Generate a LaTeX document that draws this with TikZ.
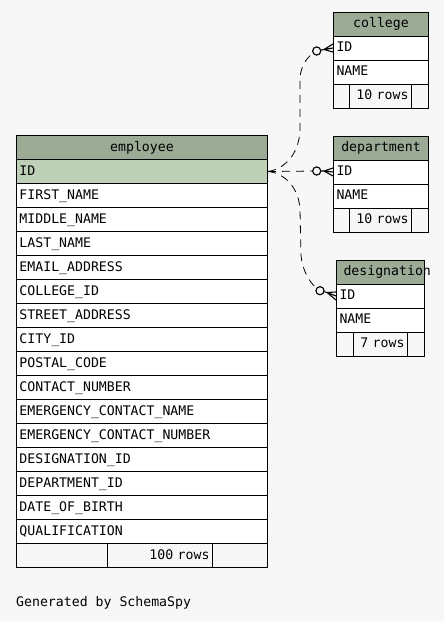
\documentclass[tikz,border=0pt]{standalone}
\usepackage{fontspec}
\newfontfamily\erdmono{DejaVu Sans Mono}
\definecolor{bgc}{HTML}{F7F7F7}
\definecolor{hdrc}{HTML}{9BAB96}
\definecolor{selc}{HTML}{BED1B8}
\begin{document}
\begin{tikzpicture}[x=1pt,y=-1pt,
  cell/.style={draw=black, line width=1pt, inner ysep=0pt, inner xsep=3pt,
    minimum height=24pt, font=\erdmono\fontsize{13.2pt}{15pt}\selectfont,
    text height=9.5pt, text depth=2.5pt, anchor=north west},
  hdr/.style={cell, fill=hdrc, align=center},
  sel/.style={cell, fill=selc, align=left},
  fld/.style={cell, fill=white, align=left},
  foot/.style={cell, fill=bgc},
  footmid/.style={cell, fill=bgc, align=right},
  rel/.style={draw=black, line width=0.8pt, dash pattern=on 8pt off 6pt},
  odot/.style={circle, draw=black, line width=1pt, fill=bgc, minimum size=8pt, inner sep=0pt},
  toe/.style={draw=black, line width=1.1pt}
]
\useasboundingbox (0,0) rectangle (444,621);
\fill[bgc] (0,0) rectangle (444,621);

% employee
\node[hdr, text width=245pt] (emp) at (16,135) {employee};
\node[sel, text width=245pt] (e0) at (16,159) {ID};
\foreach \t [count=\i] in {FIRST\_NAME, MIDDLE\_NAME, LAST\_NAME, EMAIL\_ADDRESS,
  COLLEGE\_ID, STREET\_ADDRESS, CITY\_ID, POSTAL\_CODE, CONTACT\_NUMBER,
  EMERGENCY\_CONTACT\_NAME, EMERGENCY\_CONTACT\_NUMBER, DESIGNATION\_ID,
  DEPARTMENT\_ID, DATE\_OF\_BIRTH, QUALIFICATION}
  \node[fld, text width=245pt] (e\i) at (16,{159+24*\i}) {\t};
\node[foot, minimum width=91pt] (ef1) at (16,543) {};
\node[footmid, text width=99pt] (ef2) at (107,543) {100 rows};
\node[foot, minimum width=55pt] (ef3) at (212,543) {};

% college
\node[hdr, text width=89pt] (col) at (333,11.5) {college};
\node[fld, text width=89pt] (c0) at (333,35.5) {ID};
\node[fld, text width=89pt] (c1) at (333,59.5) {NAME};
\node[foot, minimum width=16pt] (cf1) at (333,83.5) {};
\node[footmid, text width=56pt] (cf2) at (349,83.5) {10 rows};
\node[foot, minimum width=17pt] (cf3) at (411,83.5) {};

% department
\node[hdr, text width=89pt] (dep) at (333,135.5) {department};
\node[fld, text width=89pt] (d0) at (333,159.5) {ID};
\node[fld, text width=89pt] (d1) at (333,183.5) {NAME};
\node[foot, minimum width=16pt] (df1) at (333,207.5) {};
\node[footmid, text width=56pt] (df2) at (349,207.5) {10 rows};
\node[foot, minimum width=17pt] (df3) at (411,207.5) {};

% designation
\node[hdr, text width=82pt, align=left] (des) at (336,259.5) {\makebox[82pt][l]{\hspace*{4pt}designation}};
\node[fld, text width=82pt] (s0) at (336,283.5) {ID};
\node[fld, text width=82pt] (s1) at (336,307.5) {NAME};
\node[foot, minimum width=17pt] (sf1) at (336,331.5) {};
\node[footmid, text width=48pt] (sf2) at (353,331.5) {7 rows};
\node[foot, minimum width=17pt] (sf3) at (407,331.5) {};

% relationship ends
\node[odot] (oc) at (316.7,51) {};
\node[odot] (od) at (316.7,171) {};
\node[odot] (os) at (320,290.7) {};
\coordinate (tc) at (324,49.5);
\coordinate (td) at (324,171);
\coordinate (ts) at (327,292.5);

\draw[rel] (e0.east) .. controls (284,169) and (299,155) .. (300,130)
  -- (300,80) .. controls (300,68) and (306,58) .. (oc);
\draw[rel] (e0.east) -- (od);
\draw[rel] (e0.east) .. controls (284,173) and (299,187) .. (300,210)
  -- (301,255) .. controls (302,270) and (310,283) .. (os);
\node[odot] at (oc) {};
\node[odot] at (od) {};
\node[odot] at (os) {};

\draw[toe] (oc) -- (tc) (tc) -- ([yshift=4pt]c0.west) (tc) -- (c0.west) (tc) -- ([yshift=-4pt]c0.west);
\draw[toe] (od) -- (td) (td) -- ([yshift=4pt]d0.west) (td) -- (d0.west) (td) -- ([yshift=-4pt]d0.west);
\draw[toe] (os) -- (ts) (ts) -- ([yshift=4pt]s0.west) (ts) -- (s0.west) (ts) -- ([yshift=-4pt]s0.west);

\node[font=\erdmono\fontsize{13.2pt}{15pt}\selectfont, anchor=base west, inner sep=0pt] (gen) at (16,606) {Generated by SchemaSpy};
\end{tikzpicture}
\end{document}
